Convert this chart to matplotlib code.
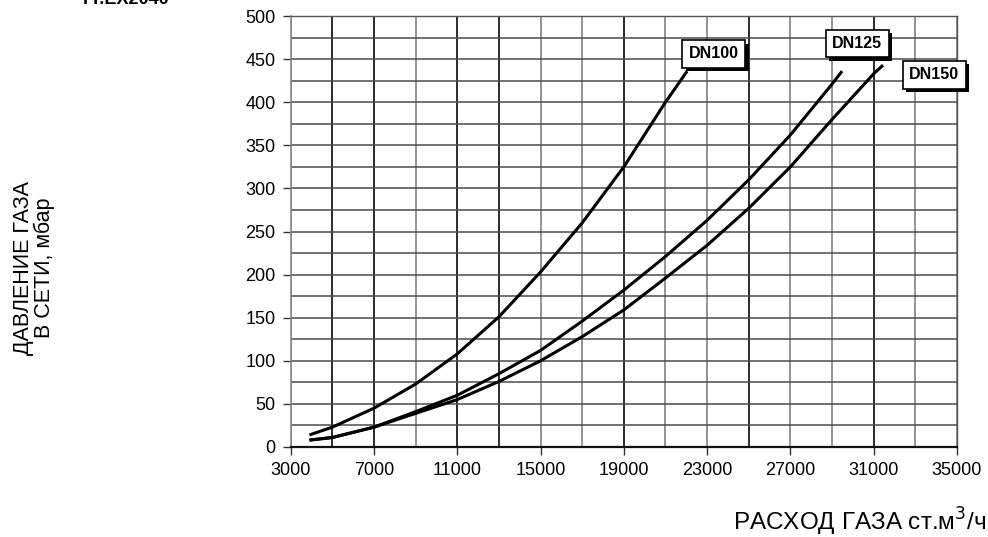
import matplotlib
matplotlib.use("Agg")
import matplotlib.pyplot as plt
import matplotlib.patheffects as pe

# ---- data ----
dn100_x = [3900, 5000, 7000, 9000, 11000, 13000, 15000, 17000, 19000, 21000, 22040]
dn100_y = [14, 23, 45, 73, 108, 151, 203, 260, 325, 400, 436]

dn125_x = [3900, 5000, 7000, 9000, 11000, 13000, 15000, 17000, 19000, 21000, 23000, 25000, 27000, 29000, 29480]
dn125_y = [8, 11, 23, 41, 60, 85, 112, 146, 182, 221, 263, 310, 362, 421, 436]

dn150_x = [3900, 5000, 7000, 9000, 11000, 13000, 15000, 17000, 19000, 21000, 23000, 25000, 27000, 29000, 31000, 31450]
dn150_y = [8, 11, 23, 39, 55, 76, 100, 128, 159, 196, 234, 277, 325, 380, 433, 443]

series_names = ["DN100", "DN125", "DN150"]
label_pos = [(23320, 456), (30210, 468), (33916, 432)]

x_ticks = [3000, 7000, 11000, 15000, 19000, 23000, 27000, 31000, 35000]
y_ticks = [0, 50, 100, 150, 200, 250, 300, 350, 400, 450, 500]
x_grid = list(range(3000, 35001, 2000))
y_grid = list(range(0, 501, 25))
dark_x = [5000, 7000, 11000, 13000, 19000, 25000, 31000]

plt.rcParams['font.family'] = ['Liberation Sans', 'DejaVu Sans']

fig = plt.figure(figsize=(9.88, 5.37), dpi=100)
ax = fig.add_axes([0.2942, 0.1676, 0.9686 - 0.2942, 0.9702 - 0.1676])
ax.set_xlim(3000, 35000)
ax.set_ylim(0, 500)

for gx in x_grid:
    if gx in dark_x:
        ax.axvline(gx, color='#1a1a1a', lw=1.3, zorder=1)
    else:
        ax.axvline(gx, color='#777777', lw=1.1, zorder=1)
for gy in y_grid:
    ax.axhline(gy, color='#4a4a4a', lw=1.1, zorder=1)

for xs, ys in [(dn100_x, dn100_y), (dn125_x, dn125_y), (dn150_x, dn150_y)]:
    ax.plot(xs, ys, color='black', lw=2.2, zorder=3, solid_capstyle='butt',
            solid_joinstyle='round')

for name, (lx, ly) in zip(series_names, label_pos):
    t = ax.text(lx, ly, name, ha='center', va='center', fontsize=11.5,
                fontweight='bold', zorder=5, clip_on=False,
                bbox=dict(boxstyle='square,pad=0.4', fc='white', ec='black', lw=1.2))
    t.get_bbox_patch().set_path_effects([
        pe.SimplePatchShadow(offset=(2.5, -2.5), shadow_rgbFace='black', alpha=1.0),
        pe.Normal()])

ax.set_xticks(x_ticks)
ax.set_yticks(y_ticks)
ax.tick_params(axis='both', direction='out', labelsize=13, length=6, width=1.0,
               color='#333333', pad=5)
for side in ['top', 'right']:
    ax.spines[side].set_color('#555555')
    ax.spines[side].set_linewidth(1.0)
ax.spines['left'].set_color('#888888')
ax.spines['left'].set_linewidth(1.2)
ax.spines['bottom'].set_color('#111111')
ax.spines['bottom'].set_linewidth(1.6)

fig.text(34 / 988, 1 - 268 / 537, "ДАВЛЕНИЕ ГАЗА\nВ СЕТИ, мбар", rotation=90,
         ha='center', va='center', fontsize=15.5, multialignment='center',
         linespacing=0.95)
fig.text(986 / 988, 1 - 522 / 537, "РАСХОД ГАЗА ст.м$^3$/ч", ha='right',
         va='center', fontsize=17.5)
fig.text(80 / 988, 1.0, "ТТ.ЕХ2040", ha='left', va='center', fontsize=13,
         fontweight='bold')

fig.savefig("out.png", dpi=100)
